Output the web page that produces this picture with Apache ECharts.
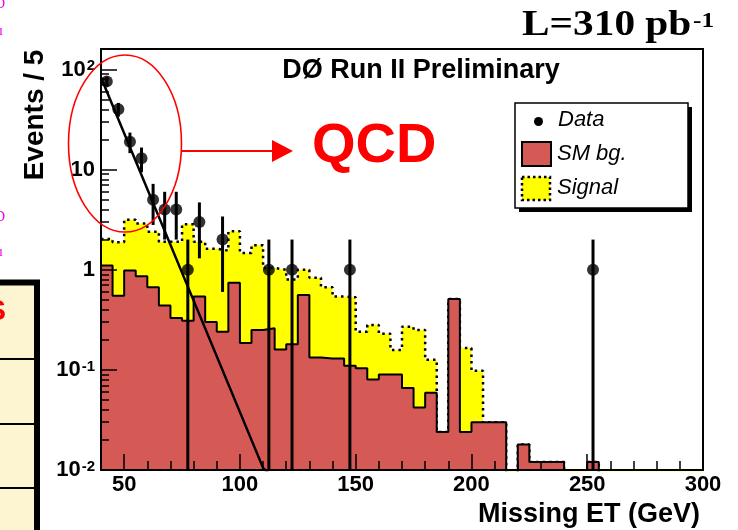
<!DOCTYPE html>
<html><head><meta charset="utf-8">
<script src="https://cdn.jsdelivr.net/npm/echarts@6/dist/echarts.min.js"></script>
<style>html,body{margin:0;padding:0;background:#fff}#c{width:738px;height:530px}</style>
</head><body><div id="c"></div>
<script>
// ---- data ----
const binLow = [40,45,50,55,60,65,70,75,80,85,90,95,100,105,110,115,120,125,130,135,140,145,150,155,160,165,170,175,180,185,190,195,200,205,210,215,220,225,230,235,240,245,250,255,260,265,270,275,280,285,290,295];
const binWidth = 5;
const smBg = [1.10,0.55,0.98,0.86,0.67,0.44,0.33,0.31,0.54,0.30,0.24,0.74,0.185,0.25,0.26,0.16,0.18,0.56,0.133,0.13,0.13,0.11,0.104,0.08,0.09,0.09,0.066,0.042,0.059,0.024,0.51,0.024,0.030,0.030,0.030,0,0.018,0.012,0.012,0.012,0,0,0.012,0,0,0,0,0,0,0,0,0];
const signal = [0.93,1.33,2.18,2.04,1.73,1.46,1.57,2.54,1.36,1.32,1.31,1.68,1.285,1.51,0.78,0.84,0.62,0.44,0.70,0.54,0.41,0.42,0.136,0.20,0.14,0.068,0.204,0.208,0.067,0,0,0.141,0.068,0,0,0,0,0,0,0,0,0,0,0,0,0,0,0,0,0,0,0];
const dataX = [42.5,47.5,52.5,57.5,62.5,67.5,72.5,77.5,82.5,92.5,112.5,122.5,147.5,252.5];
const dataY = [76,40,19,13,5,4,4,1,3,2,1,1,1,1];
const dataErr = [8.7,6.3,4.4,3.6,2.2,2,2,1,1.7,1.4,1,1,1,1];
const qcdX = [40,110,112.5];
const qcdY = [83,0.0105,0.0092];
const xTickValues = [50,100,150,200,250,300];
const yTickValues = [0.01,0.1,1,10,100];
const yTickLabels = ['10{s|-2}','10{s|-1}','1','10','10{s|2}'];
const yMinorValues = [0.02,0.03,0.04,0.05,0.06,0.07,0.08,0.09,0.2,0.3,0.4,0.5,0.6,0.7,0.8,0.9,2,3,4,5,6,7,8,9,20,30,40,50,60,70,80,90];

const Y_MIN = 0.01, Y_MAX = 160, X_MIN = 40, X_MAX = 300;
const FONT = '"Liberation Sans", Arial, sans-serif';
const RED = '#d55a56', YEL = '#ffff00';

function stepData(vals){
  const d = binLow.map((x,i)=>[x, vals[i] > 0 ? vals[i] : 1e-4]);
  d.push([binLow[binLow.length-1] + binWidth, d[d.length-1][1]]);
  return d;
}
const total = smBg.map((v,i)=>v + signal[i]);

const chart = echarts.init(document.getElementById('c'));
chart.setOption({
  animation: false,
  grid: {left:101, right:35, top:49, bottom:60, show:true, borderColor:'#000', borderWidth:2},
  xAxis: [
    {type:'value', min:X_MIN, max:X_MAX, position:'bottom', z:10,
     axisLine:{show:true, lineStyle:{color:'#000', width:2}},
     splitLine:{show:false},
     axisTick:{show:true, inside:true, length:16, customValues:xTickValues, lineStyle:{color:'#000', width:1.5}},
     axisLabel:{show:true, customValues:xTickValues, margin:4, color:'#000', fontFamily:FONT, fontWeight:'bold', fontSize:22}},
    {type:'value', min:X_MIN, max:X_MAX, interval:10, position:'bottom', z:10,
     axisLine:{show:false}, splitLine:{show:false}, axisLabel:{show:false},
     axisTick:{show:true, inside:true, length:9, lineStyle:{color:'#000', width:1.5}}}
  ],
  yAxis: [
    {type:'log', logBase:10, min:Y_MIN, max:Y_MAX, position:'left', z:10,
     axisLine:{show:true, lineStyle:{color:'#000', width:2}},
     splitLine:{show:false},
     axisTick:{show:true, inside:true, length:16, customValues:yTickValues, lineStyle:{color:'#000', width:1.5}},
     axisLabel:{show:true, customValues:yTickValues, margin:6, color:'#000', fontFamily:FONT, fontWeight:'bold', fontSize:22,
       formatter:function(v){
         for (let i=0;i<yTickValues.length;i++){ if (Math.abs(Math.log10(v)-Math.log10(yTickValues[i]))<1e-6) return yTickLabels[i]; }
         return '';
       },
       rich:{s:{fontSize:15, fontWeight:'bold', fontFamily:FONT, color:'#000', verticalAlign:'top', padding:[0,0,0,1]}}}},
    {type:'log', logBase:10, min:Y_MIN, max:Y_MAX, position:'left', z:10,
     axisLine:{show:false}, splitLine:{show:false}, axisLabel:{show:false},
     axisTick:{show:true, inside:true, length:8, customValues:yMinorValues, lineStyle:{color:'#000', width:1.5}}}
  ],
  series: [
    {name:'Signal', type:'line', step:'end', data:stepData(total), symbol:'none', z:2,
     lineStyle:{color:'#000', width:2.5, type:[2.5,4]},
     areaStyle:{color:YEL, opacity:1, origin:'start'}},
    {name:'SM bg.', type:'line', step:'end', data:stepData(smBg), symbol:'none', z:3,
     lineStyle:{color:'#000', width:2},
     areaStyle:{color:RED, opacity:1, origin:'start'}},
    {name:'QCD', type:'line', data:qcdX.map((x,i)=>[x,qcdY[i]]), symbol:'none', z:4,
     lineStyle:{color:'#000', width:2.5}},
    {name:'err', type:'custom', z:5, clip:true,
     data:dataX.map((x,i)=>[x, dataY[i], dataErr[i]]),
     encode:{x:0, y:1},
     renderItem:function(params, api){
       const x = api.value(0), y = api.value(1), e = api.value(2);
       const lo = Math.max(y - e, Y_MIN);
       const p1 = api.coord([x, y + e]);
       const p2 = api.coord([x, lo]);
       return {type:'line', shape:{x1:p1[0], y1:p1[1], x2:p2[0], y2:p2[1]}, style:{stroke:'#000', lineWidth:3}};
     }},
    {name:'Data', type:'scatter', z:6, symbol:'circle', symbolSize:12,
     itemStyle:{color:'#000'},
     data:dataX.map((x,i)=>[x, dataY[i]])}
  ],
  graphic:{elements:[
    // slide fragments at the left
    {type:'text', x:5, y:4, style:{text:'D', fill:'#ee00ee', font:'14px "Liberation Serif"', textAlign:'right', textVerticalAlign:'middle'}},
    {type:'text', x:3, y:31, style:{text:'ı', fill:'#ee00ee', font:'14px "Liberation Serif"', textAlign:'right', textVerticalAlign:'middle'}},
    {type:'text', x:5, y:217, style:{text:'D', fill:'#ee00ee', font:'14px "Liberation Serif"', textAlign:'right', textVerticalAlign:'middle'}},
    {type:'text', x:3, y:252, style:{text:'ı', fill:'#ee00ee', font:'14px "Liberation Serif"', textAlign:'right', textVerticalAlign:'middle'}},
    {type:'rect', shape:{x:-10, y:282.5, width:47, height:270}, style:{fill:'#fdf5d2', stroke:'#000', lineWidth:6}},
    {type:'line', shape:{x1:0, y1:359, x2:35, y2:359}, style:{stroke:'#000', lineWidth:2}},
    {type:'line', shape:{x1:0, y1:424, x2:35, y2:424}, style:{stroke:'#000', lineWidth:2}},
    {type:'line', shape:{x1:0, y1:488, x2:35, y2:488}, style:{stroke:'#000', lineWidth:2}},
    {type:'text', x:6, y:312, style:{text:'S', fill:'#ff0000', font:'bold 30px ' + FONT, textAlign:'right', textVerticalAlign:'middle'}},
    // luminosity
    {type:'text', x:522, y:26, scaleX:1.18, style:{text:'L=310 pb', fill:'#000', font:'bold 35px "Liberation Serif"', textAlign:'left', textVerticalAlign:'middle'}},
    {type:'text', x:693, y:21, scaleX:1.15, style:{text:'-1', fill:'#000', font:'bold 22px "Liberation Serif"', textAlign:'left', textVerticalAlign:'middle'}},
    // title
    {type:'text', x:421, y:71, z:20, style:{text:'DØ Run II Preliminary', fill:'#000', font:'bold 27px ' + FONT, textAlign:'center', textVerticalAlign:'middle'}},
    // axis titles
    {type:'text', x:35, y:115, rotation:Math.PI/2, style:{text:'Events / 5', fill:'#000', font:'bold 28px ' + FONT, textAlign:'center', textVerticalAlign:'middle'}},
    {type:'text', x:700, y:515, style:{text:'Missing ET (GeV)', fill:'#000', font:'bold 27px ' + FONT, textAlign:'right', textVerticalAlign:'middle'}},
    // legend
    {type:'rect', z:20, shape:{x:519, y:107, width:173, height:105}, style:{fill:'#000'}},
    {type:'rect', z:21, shape:{x:515, y:103, width:173, height:105}, style:{fill:'#fff', stroke:'#000', lineWidth:1.5}},
    {type:'circle', z:22, shape:{cx:538.5, cy:121.5, r:4.5}, style:{fill:'#000'}},
    {type:'text', z:22, x:558, y:120, style:{text:'Data', fill:'#000', font:'italic 22px ' + FONT, textAlign:'left', textVerticalAlign:'middle'}},
    {type:'rect', z:22, shape:{x:522, y:142, width:29, height:24}, style:{fill:RED, stroke:'#000', lineWidth:2}},
    {type:'text', z:22, x:557, y:154, style:{text:'SM bg.', fill:'#000', font:'italic 22px ' + FONT, textAlign:'left', textVerticalAlign:'middle'}},
    {type:'rect', z:22, shape:{x:522, y:177, width:28, height:23}, style:{fill:YEL, stroke:'#000', lineWidth:2.5, lineDash:[2.5,3]}},
    {type:'text', z:22, x:557, y:188, style:{text:'Signal', fill:'#000', font:'italic 22px ' + FONT, textAlign:'left', textVerticalAlign:'middle'}},
    // QCD annotation
    {type:'ellipse', z:30, shape:{cx:125, cy:143.5, rx:56.5, ry:88.5}, style:{fill:null, stroke:'#ff0000', lineWidth:1.6}},
    {type:'line', z:30, shape:{x1:181.5, y1:151, x2:274, y2:151}, style:{stroke:'#ff0000', lineWidth:2}},
    {type:'polygon', z:30, shape:{points:[[272,140],[293,151],[272,162]]}, style:{fill:'#ff0000'}},
    {type:'text', z:30, x:312, y:147, style:{text:'QCD', fill:'#ff0000', font:'bold 56px ' + FONT, textAlign:'left', textVerticalAlign:'middle'}}
  ]}
});
</script>
</body></html>
